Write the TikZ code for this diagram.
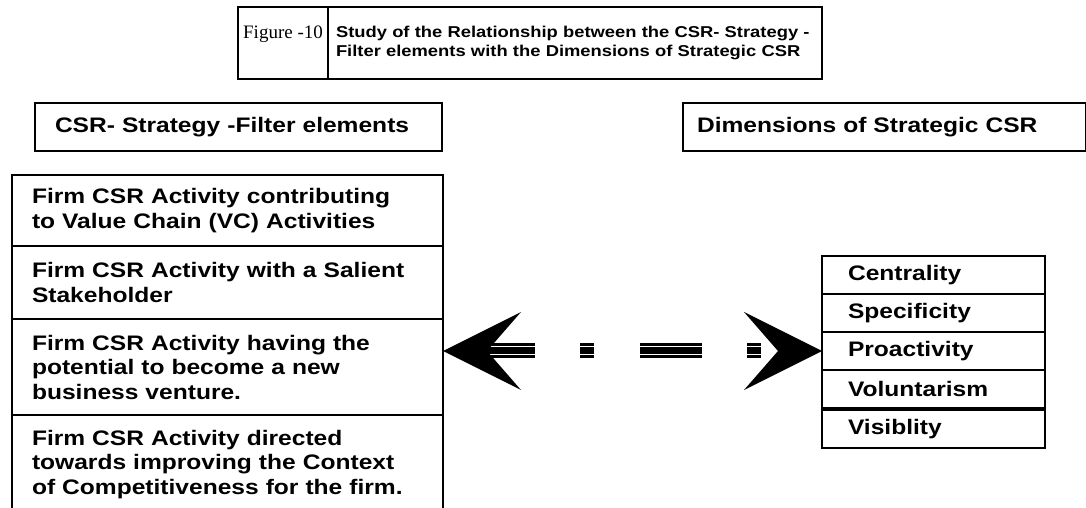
\documentclass[tikz,border=0pt]{standalone}
\usepackage{fontspec}
\usetikzlibrary{calc}
\newfontfamily\sansbold{Liberation Sans}[FakeStretch=1.17]
\newfontfamily\serifreg{Liberation Serif}
\tikzset{
  frame/.style={draw, line width=1.7pt},
  txt/.style={font=\sansbold\bfseries\fontsize{21pt}{24.5pt}\selectfont},
  cell/.style={frame, txt, anchor=north west, inner ysep=0pt, inner xsep=20pt, outer sep=0pt, align=left},
  dimcell/.style={cell, inner xsep=26pt, text width=171pt, minimum height=38pt},
  stripe/.style={line width=#1, dash pattern=on 62pt off 45pt on 14pt off 46pt},
}
\begin{document}
\begin{tikzpicture}[x=1pt,y=-1pt]
\useasboundingbox (0,0) rectangle (1086,508);

% title block
\node[cell, line width=2pt, minimum width=90pt, minimum height=72pt, inner xsep=0pt] (fig) at (238,7) {};
\node[anchor=base, font=\serifreg\fontsize{19pt}{21pt}\selectfont] (figlbl) at ($(fig.center)+(0,-4)$) {Figure -10};
\node[cell, line width=2pt, inner xsep=8pt, text width=478pt, minimum height=72pt,
      font=\sansbold\bfseries\fontsize{15.7pt}{19pt}\selectfont] (ttl) at (fig.north east)
  {Study of the Relationship between the CSR- Strategy -\\Filter elements with the Dimensions of Strategic CSR};

% column headers
\node[cell, text width=367pt, minimum height=48pt] (hl) at (35,103) {CSR- Strategy -Filter elements};
\node[cell, inner xsep=14pt, text width=375pt, minimum height=48pt] (hr) at (683,103) {Dimensions of Strategic CSR};

% filter elements
\node[cell, text width=391pt, minimum height=71pt] (s1) at (12,175)
  {Firm CSR Activity contributing\\to Value Chain (VC) Activities};
\node[cell, text width=391pt, minimum height=73pt] (s2) at (s1.south west)
  {Firm CSR Activity with a Salient\\Stakeholder};
\node[cell, text width=391pt, minimum height=96pt] (s3) at (s2.south west)
  {Firm CSR Activity having the\\potential to become a new\\business venture.};
\node[cell, draw=none, text width=391pt, minimum height=99pt] (s4) at (s3.south west)
  {Firm CSR Activity directed\\towards improving the Context\\of Competitiveness for the firm.};
\draw[line width=1.7pt] ($(s4.south west)+(0,8)$) -- (s4.north west) -- (s4.north east) -- ($(s4.south east)+(0,8)$);

% dimensions
\node[dimcell] (r1) at (822,256) {Centrality};
\node[dimcell] (r2) at (r1.south west) {Specificity};
\node[dimcell] (r3) at (r2.south west) {Proactivity};
\node[dimcell] (r4) at (r3.south west) {Voluntarism};
\node[dimcell] (r5) at ($(r4.south west)+(0,1.8)$) {Visiblity};

% two-headed link between the columns
\coordinate (rt) at (r3.west);
\coordinate (lt) at (s3.east |- rt);
\draw[stripe=2.8pt] ($(lt)+(30,-6.5)$) -- ($(rt)+(-44,-6.5)$);
\draw[stripe=6.5pt] ($(lt)+(30,-0.5)$) -- ($(rt)+(-44,-0.5)$);
\draw[stripe=3.2pt] ($(lt)+(30,5.5)$) -- ($(rt)+(-44,5.5)$);
\fill (lt) -- ++(78,-39) -- ++(-34,39) -- ++(34,39) -- cycle;
\fill (rt) -- ++(-78,-39) -- ++(34,39) -- ++(-34,39) -- cycle;
\end{tikzpicture}
\end{document}
